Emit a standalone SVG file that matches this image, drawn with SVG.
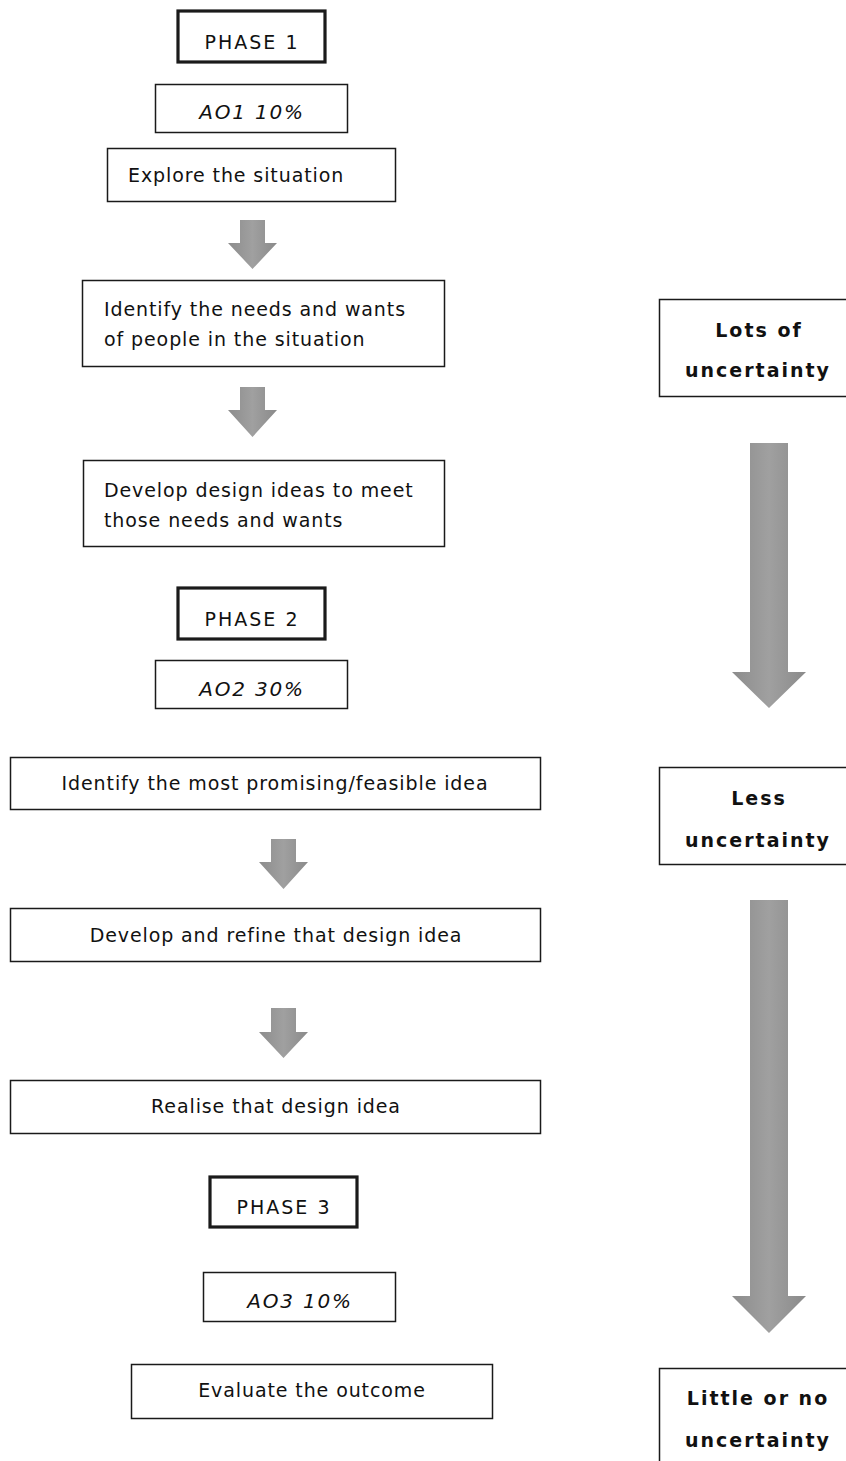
<svg xmlns="http://www.w3.org/2000/svg" width="846" height="1461" viewBox="0 0 846 1461">
<style>
  .box{fill:#fff;stroke:#1a1a1a;stroke-width:1.5}
  .phase{fill:#fff;stroke:#1a1a1a;stroke-width:3.2}
  .t{font-family:"DejaVu Sans",Verdana,sans-serif;font-size:19px;fill:#111;letter-spacing:0.9px}
  .c{text-anchor:middle}
  .ph{letter-spacing:2px}
  .it{font-style:italic;font-size:20px;letter-spacing:1.8px}
  .b{font-weight:bold;letter-spacing:2px;text-anchor:middle}
  .arr{fill:url(#g);stroke:none}
</style>
<defs>
  <linearGradient id="g" x1="0" y1="0" x2="1" y2="0">
    <stop offset="0" stop-color="#8c8c8c"/>
    <stop offset="0.5" stop-color="#a0a0a0"/>
    <stop offset="1" stop-color="#8a8a8a"/>
  </linearGradient>
</defs>
<rect width="846" height="1461" fill="#fff"/>

<g id="phase1"><rect class="phase" x="178" y="11" width="147" height="51"/><text class="t c ph" x="252" y="49">PHASE 1</text></g>
<g id="ao1"><rect class="box" x="155.5" y="84.5" width="192" height="48"/><text class="t c it" x="252" y="119">AO1 10%</text></g>
<g id="explore"><rect class="box" x="107.5" y="148.5" width="288" height="53"/><text class="t" x="128" y="182">Explore the situation</text></g>
<g id="needs"><rect class="box" x="82.5" y="280.5" width="362" height="86"/><text class="t" x="104" y="316">Identify the needs and wants</text><text class="t" x="104" y="346">of people in the situation</text></g>
<g id="ideas"><rect class="box" x="83.5" y="460.5" width="361" height="86"/><text class="t" x="104" y="497">Develop design ideas to meet</text><text class="t" x="104" y="527">those needs and wants</text></g>
<g id="phase2"><rect class="phase" x="178" y="588" width="147" height="51"/><text class="t c ph" x="252" y="626">PHASE 2</text></g>
<g id="ao2"><rect class="box" x="155.5" y="660.5" width="192" height="48"/><text class="t c it" x="252" y="696">AO2 30%</text></g>
<g id="promising"><rect class="box" x="10.5" y="757.5" width="530" height="52"/><text class="t c" x="275" y="790">Identify the most promising/feasible idea</text></g>
<g id="refine"><rect class="box" x="10.5" y="908.5" width="530" height="53"/><text class="t c" x="276" y="942">Develop and refine that design idea</text></g>
<g id="realise"><rect class="box" x="10.5" y="1080.5" width="530" height="53"/><text class="t c" x="276" y="1113">Realise that design idea</text></g>
<g id="phase3"><rect class="phase" x="210" y="1177" width="147" height="50"/><text class="t c ph" x="284" y="1214">PHASE 3</text></g>
<g id="ao3"><rect class="box" x="203.5" y="1272.5" width="192" height="49"/><text class="t c it" x="300" y="1308">AO3 10%</text></g>
<g id="evaluate"><rect class="box" x="131.5" y="1364.5" width="361" height="54"/><text class="t c" x="312" y="1397">Evaluate the outcome</text></g>

<g id="lots"><rect class="box" x="659.5" y="299.5" width="200" height="97"/><text class="t b" x="759" y="337">Lots of</text><text class="t b" x="758" y="377">uncertainty</text></g>
<g id="less"><rect class="box" x="659.5" y="767.5" width="200" height="97"/><text class="t b" x="759" y="805">Less</text><text class="t b" x="758" y="847">uncertainty</text></g>
<g id="little"><rect class="box" x="659.5" y="1368.5" width="200" height="110"/><text class="t b" x="758" y="1405">Little or no</text><text class="t b" x="758" y="1447">uncertainty</text></g>

<g id="connectors">
  <polygon class="arr" points="240,220 265,220 265,243 277,243 252.5,269 228,243 240,243"/>
  <polygon class="arr" points="240,387 265,387 265,410 277,410 252.5,437 228,410 240,410"/>
  <polygon class="arr" points="271,839 296,839 296,862 308,862 283.5,889 259,862 271,862"/>
  <polygon class="arr" points="271,1008 296,1008 296,1032 308,1032 283.5,1058 259,1032 271,1032"/>
  <polygon class="arr" points="750,443 788,443 788,672 806,672 769,708 732,672 750,672"/>
  <polygon class="arr" points="750,900 788,900 788,1296 806,1296 769,1333 732,1296 750,1296"/>
</g>
</svg>
